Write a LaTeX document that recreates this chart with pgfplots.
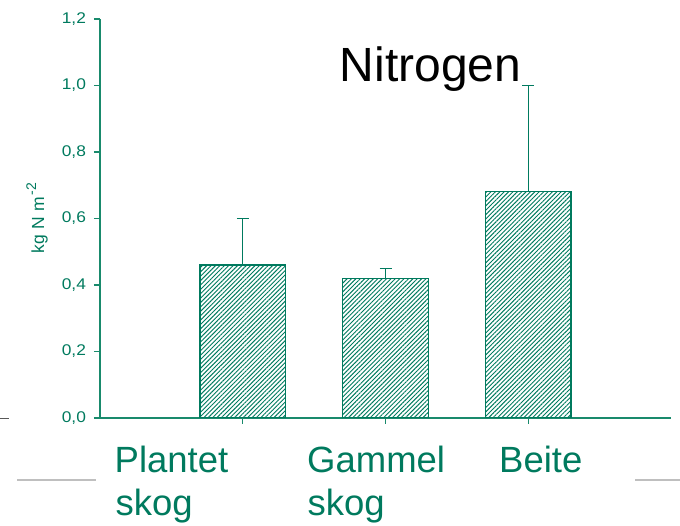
\documentclass[border=0pt]{standalone}
\usepackage{fontspec}
\setmainfont{Liberation Sans}
\usepackage{pgfplots}
\pgfplotsset{compat=1.18}
\usetikzlibrary{patterns.meta}
\definecolor{ngreen}{RGB}{0,122,94}
\definecolor{axgreen}{RGB}{25,138,108}
\begin{document}
\begin{tikzpicture}
\begin{axis}[
  at={(100pt,107pt)}, anchor=south west,
  scale only axis, width=571pt, height=399pt,
  xmin=0, xmax=4, ymin=0, ymax=1.2,
  enlargelimits=false,
  axis lines=left,
  axis line style={-, axgreen, line width=1.2pt},
  tick style={axgreen, line width=1.2pt},
  tick align=outside,
  major tick length=6pt,
  xtick={1,2,3}, xticklabels={},
  ytick={0,0.2,0.4,0.6,0.8,1.0,1.2},
  yticklabel style={text=ngreen, font=\fontsize{15.5}{17}\selectfont, xscale=1.12, inner sep=0pt, xshift=-7pt},
  /pgf/number format/.cd, use comma, fixed, fixed zerofill, precision=1, assume math mode=true,
]
\addplot[ybar, bar width=0.6, draw=ngreen, line width=1.2pt,
  pattern={Lines[angle=45, distance=3.1pt, line width=0.95pt]}, pattern color=ngreen,
  error bars/.cd, y dir=plus, y explicit,
  error bar style={ngreen, line width=1.4pt},
  error mark options={ngreen, rotate=90, line width=1.4pt, mark size=6pt}]
  table[x=x, y=y, y error plus=e] {
x y e
1 0.46 0.14
2 0.42 0.03
3 0.68 0.32
};
\end{axis}
\node[rotate=90, anchor=base, inner sep=0pt, text=ngreen, font=\fontsize{17.5}{19}\selectfont] at (44pt,307pt) {kg\hspace{5pt}N\hspace{5pt}m\hspace{2pt}\raisebox{0.45em}{\fontsize{14}{15}\selectfont -2}};
\node[anchor=base west, inner sep=0pt, font=\fontsize{48}{52}\selectfont] at (339.5pt,443pt) {Nitrogen};
\begin{scope}[every node/.style={anchor=base west, inner sep=0pt, text=ngreen, font=\fontsize{36.5}{40}\selectfont}]
\node at (114.5pt,53pt) {Plantet};
\node at (115.5pt,10pt) {skog};
\node at (307pt,53pt) {Gammel};
\node at (307.5pt,10pt) {skog};
\node at (499pt,53pt) {Beite};
\end{scope}
\draw[black!25, line width=1.2pt] (17pt,45pt) -- (96pt,45pt);
\draw[black!25, line width=1.2pt] (635pt,45pt) -- (680pt,45pt);
\draw[black!65, line width=1pt] (0pt,106pt) -- (9pt,106pt);
\pgfresetboundingbox
\useasboundingbox (0,0) rectangle (680pt,525pt);
\end{tikzpicture}
\end{document}
